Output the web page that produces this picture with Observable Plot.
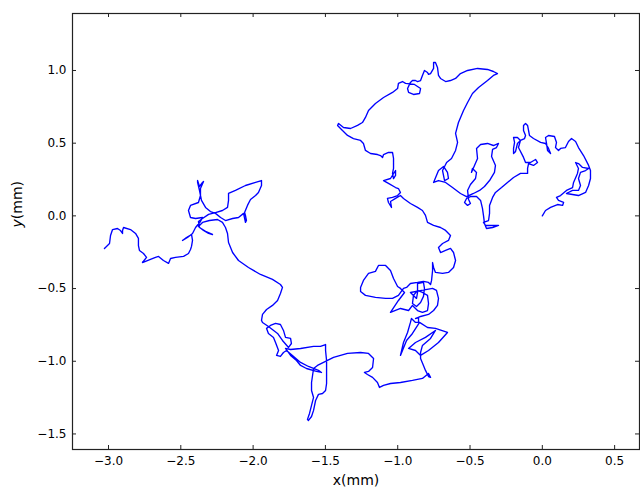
<!DOCTYPE html>
<html>
<head>
<meta charset="utf-8">
<script src="https://cdn.jsdelivr.net/npm/d3@7"></script>
<script src="https://cdn.jsdelivr.net/npm/@observablehq/plot@0.6"></script>
<style>
  html, body { margin: 0; padding: 0; background: #fff; }
  #chart svg { display: block; }
</style>
</head>
<body>
<div id="chart"></div>
<script>
// Random-walk trajectory (x mm, y mm), in path order
const walkStart = [
  [0,0],[0.022,0.037],[0.057,0.058],[0.105,0.078],[0.140,0.072],[0.147,0.092],[0.112,0.106],[0.098,0.127],
  [0.126,0.140],[0.167,0.175],[0.209,0.195],[0.216,0.230],[0.243,0.292],[0.250,0.326],[0.230,0.367],[0.250,0.360],
  [0.278,0.333],[0.320,0.326],[0.299,0.312],[0.264,0.299],[0.250,0.257],[0.264,0.209],[0.250,0.175],[0.209,0.175],
  [0.167,0.154],[0.250,0.140],[0.299,0.161],[0.320,0.209],[0.333,0.257],[0.333,0.312],[0.320,0.347],[0.285,0.415],
  [0.250,0.470],[0.230,0.512],[0.202,0.532],[0.181,0.512],[0.160,0.470],[0.126,0.464],
  [0.112,0.450],[0.091,0.470],
  [0.098,0.505],[0.084,0.546],[0.043,0.553],[0.022,0.539],[0.029,0.498],[0.036,0.450],[0.057,0.429],[0.043,0.464],
  [0.022,0.498],[-0.012,0.505],[-0.061,0.532],[-0.089,0.553],[-0.095,0.587],[-0.102,0.622],[-0.116,0.636],[-0.130,0.622],
  [-0.130,0.587],[-0.116,0.553],[-0.123,0.532],[-0.151,0.519],[-0.172,0.498],[-0.185,0.443],[-0.199,0.429],[-0.199,0.464],
  [-0.192,0.505],[-0.199,0.539],[-0.172,0.539],[-0.151,0.519],[-0.165,0.470],[-0.130,0.402],[-0.116,0.367],[-0.082,0.367],
  [-0.047,0.388],[-0.033,0.367],[-0.061,0.347],[-0.095,0.360],[-0.102,0.326],[-0.102,0.292],[-0.151,0.292],[-0.199,0.264],
  [-0.241,0.230],[-0.282,0.195],[-0.324,0.161],[-0.344,0.127],[-0.365,0.072],[-0.365,0.017],[-0.372,-0.032],[-0.407,-0.045],
  [-0.393,-0.066],[-0.344,-0.066],[-0.303,-0.066],[-0.344,-0.080],[-0.386,-0.087],[-0.400,-0.052],[-0.407,0.003],[-0.414,0.051],
  [-0.427,0.106],[-0.455,0.133],[-0.497,0.133],[-0.524,0.120],[-0.538,0.092],[-0.517,0.072],[-0.497,0.085],[-0.510,0.113],
  [-0.517,0.175],[-0.497,0.216],[-0.462,0.257],[-0.455,0.299],[-0.483,0.326],[-0.490,0.299],[-0.469,0.347],[-0.448,0.395],
  [-0.455,0.464],[-0.427,0.491],[-0.379,0.498],[-0.338,0.484],[-0.303,0.498],[-0.317,0.470],[-0.344,0.457],[-0.351,0.409],
  [-0.324,0.347],[-0.331,0.299],[-0.365,0.243],[-0.400,0.202],[-0.434,0.175],[-0.476,0.154],[-0.524,0.133],[-0.566,0.154],
  [-0.621,0.195],[-0.669,0.230],[-0.718,0.243],[-0.752,0.230],[-0.718,0.312],[-0.683,0.340],[-0.656,0.299],[-0.649,0.257],
  [-0.676,0.243],[-0.690,0.312],[-0.662,0.367],[-0.628,0.395],[-0.600,0.450],[-0.586,0.505],[-0.600,0.567],[-0.580,0.642],
  [-0.545,0.725]
];
const walkUpper = [
  [-0.517,0.780],[-0.483,0.842],[-0.441,0.883],[-0.379,0.931],[-0.338,0.966],[-0.310,0.979],[-0.338,0.993],[-0.379,1.007],
  [-0.448,1.014],[-0.517,1.000],[-0.566,0.979],[-0.600,0.945],[-0.635,0.931],[-0.669,0.924],[-0.704,0.945],[-0.718,0.966],
  [-0.725,1.021],[-0.739,1.055],[-0.752,1.055],[-0.752,1.014],[-0.773,0.979],[-0.787,0.973],[-0.794,0.986],[-0.815,1.000],
  [-0.829,0.966],[-0.842,0.931],[-0.863,0.924],[-0.877,0.931],[-0.898,0.931],[-0.912,0.918],[-0.932,0.876],[-0.925,0.849],
  [-0.891,0.835],[-0.849,0.842],[-0.842,0.876],[-0.884,0.904],[-0.946,0.911],[-0.967,0.924],[-0.995,0.911],[-1.001,0.876],
  [-1.036,0.849],[-1.098,0.814],[-1.154,0.773],[-1.202,0.725],[-1.223,0.677],[-1.244,0.642],[-1.278,0.622],[-1.326,0.601],
  [-1.375,0.608],[-1.409,0.636],[-1.416,0.622],[-1.382,0.587],[-1.347,0.553],[-1.306,0.532],[-1.257,0.519],[-1.237,0.498],
  [-1.223,0.450],[-1.188,0.429],[-1.140,0.422],[-1.119,0.415],[-1.105,0.402],[-1.098,0.422],[-1.064,0.436],[-1.036,0.436],
  [-1.029,0.395],[-1.029,0.326],[-1.036,0.292],[-1.029,0.257],[-1.015,0.278],[-1.015,0.312],[-1.050,0.257],[-1.098,0.243],
  [-1.064,0.223],[-1.015,0.195],[-0.995,0.188],[-0.981,0.161],[-1.001,0.140],[-1.036,0.127],[-1.071,0.120],[-1.064,0.092],
  [-1.043,0.058],[-1.050,0.099],[-1.015,0.120],[-0.981,0.140],[-0.960,0.120],[-0.912,0.085],[-0.863,0.058],[-0.829,0.037],
  [-0.808,0.003],[-0.794,-0.045],[-0.752,-0.066],[-0.704,-0.080],[-0.669,-0.100],[-0.635,-0.135],[-0.649,-0.169],[-0.690,-0.190],
  [-0.718,-0.217],[-0.704,-0.252],[-0.669,-0.238],[-0.635,-0.224],[-0.614,-0.252],[-0.600,-0.307],[-0.614,-0.355],[-0.649,-0.389],
  [-0.690,-0.396],[-0.739,-0.389],[-0.752,-0.355],[-0.759,-0.321],[-0.759,-0.376],[-0.766,-0.444]
];
const walkKnot = [
  [-0.773,-0.472],[-0.787,-0.458],[-0.822,-0.451],[-0.863,-0.458],[-0.912,-0.465],[-0.939,-0.492],[-0.960,-0.499],[-0.995,-0.547],
  [-1.036,-0.568],[-1.084,-0.568],[-1.154,-0.561],[-1.223,-0.547],[-1.257,-0.520],[-1.257,-0.492],[-1.237,-0.444],[-1.202,-0.396],
  [-1.154,-0.382],[-1.133,-0.341],[-1.084,-0.341],[-1.050,-0.376],[-1.029,-0.431],[-1.001,-0.486],[-0.981,-0.499],[-0.953,-0.527],
  [-0.995,-0.582],[-1.050,-0.664],[-0.981,-0.637],[-0.925,-0.651],[-0.898,-0.616],[-0.863,-0.651],[-0.829,-0.664],[-0.794,-0.651],
  [-0.787,-0.603],[-0.794,-0.547],[-0.829,-0.527],[-0.863,-0.513],[-0.891,-0.547],[-0.898,-0.603],[-0.870,-0.623],[-0.842,-0.596],
  [-0.822,-0.554],[-0.815,-0.499],[-0.822,-0.458],[-0.863,-0.465],[-0.863,-0.527],[-0.870,-0.568],[-0.912,-0.527],[-0.835,-0.513],
  [-0.759,-0.499],
  [-0.732,-0.513],[-0.718,-0.568],[-0.725,-0.616],[-0.752,-0.651],[-0.787,-0.678],[-0.842,-0.692],[-0.877,-0.706],
  [-0.856,-0.699],[-0.856,-0.733],[-0.877,-0.733],[-0.905,-0.706],[-0.912,-0.733],[-0.932,-0.802],[-0.960,-0.871],[-0.981,-0.960],
  [-0.967,-0.926],[-0.939,-0.857],[-0.898,-0.809],[-0.849,-0.733],[-0.794,-0.768],[-0.739,-0.774],[-0.656,-0.802],[-0.718,-0.871],
  [-0.787,-0.926],[-0.842,-0.960],[-0.877,-0.926],[-0.925,-0.912],[-0.877,-0.871],[-0.808,-0.836],[-0.739,-0.788],[-0.773,-0.843],
  [-0.829,-0.891],[-0.842,-0.940],[-0.842,-0.981],[-0.822,-1.029],[-0.808,-1.063],[-0.787,-1.105],[-0.773,-1.111],[-0.787,-1.084],
  [-0.829,-1.118],[-0.898,-1.132],[-0.981,-1.146],[-1.050,-1.153],[-1.098,-1.166],[-1.126,-1.180],[-1.140,-1.146],[-1.174,-1.111],
  [-1.209,-1.091],[-1.230,-1.077],[-1.202,-1.070],[-1.174,-1.043],[-1.167,-0.981],[-1.202,-0.946],[-1.257,-0.940],[-1.347,-0.946],
  [-1.444,-0.974],[-1.513,-1.008],[-1.555,-1.029],[-1.582,-1.050]
];
const walkEnd = [
  [-1.589,-1.098],[-1.596,-1.146],[-1.596,-1.201],[-1.582,-1.249],[-1.596,-1.304],[-1.610,-1.359],[-1.624,-1.400],[-1.617,-1.407],
  [-1.596,-1.380],[-1.582,-1.338],[-1.568,-1.270],[-1.548,-1.228],[-1.520,-1.222],[-1.499,-1.201],[-1.492,-1.153],[-1.492,-1.077],
  [-1.492,-0.995],[-1.499,-0.926],[-1.499,-0.885],[-1.534,-0.898],[-1.582,-0.898],[-1.672,-0.912],[-1.741,-0.919],[-1.776,-0.912],
  [-1.741,-0.960],[-1.700,-0.995],[-1.672,-1.029],[-1.631,-1.050],[-1.562,-1.070],[-1.527,-1.077],[-1.548,-1.063],[-1.617,-1.036],
  [-1.672,-1.008],[-1.728,-0.960],[-1.769,-0.926],[-1.790,-0.940],[-1.811,-0.967],[-1.838,-0.960],[-1.824,-0.926],[-1.845,-0.871],
  [-1.859,-0.836],[-1.894,-0.809],[-1.907,-0.774],[-1.880,-0.754],[-1.845,-0.740],[-1.811,-0.747],[-1.790,-0.788],[-1.776,-0.836],
  [-1.741,-0.843],[-1.735,-0.878],[-1.755,-0.905],[-1.797,-0.857],[-1.831,-0.809],[-1.894,-0.761],[-1.935,-0.733],[-1.942,-0.719],
  [-1.935,-0.678],[-1.907,-0.644],[-1.866,-0.616],[-1.831,-0.582],[-1.811,-0.534],[-1.797,-0.492],[-1.811,-0.472],[-1.866,-0.437],
  [-1.949,-0.403],[-2.032,-0.355],[-2.101,-0.307],[-2.142,-0.252],[-2.170,-0.183],[-2.177,-0.121],[-2.191,-0.080],[-2.212,-0.045],
  [-2.246,-0.025],[-2.302,-0.032],[-2.350,-0.045],[-2.378,-0.073],[-2.343,-0.100],[-2.308,-0.121],[-2.281,-0.128],[-2.329,-0.107],
  [-2.371,-0.080],[-2.378,-0.039],[-2.350,-0.018],[-2.308,0.010],[-2.260,0.023],[-2.212,0.037],[-2.177,0.058],[-2.170,0.106],
  [-2.170,0.154],[-2.122,0.175],[-2.053,0.209],[-1.983,0.230],[-1.942,0.243],[-1.942,0.209],[-1.963,0.161],[-1.983,0.140],
  [-2.018,0.113],[-2.039,0.072],[-2.059,0.023],[-2.053,0.003],[-2.046,-0.032],[-2.053,-0.045],[-2.066,0.017],[-2.101,-0.011],
  [-2.142,-0.018],[-2.191,-0.032],[-2.225,-0.011],[-2.260,0.017],[-2.295,0.030],[-2.329,0.058],[-2.357,0.106],[-2.371,0.175],
  [-2.384,0.230],[-2.384,0.243],[-2.371,0.202],[-2.350,0.230],[-2.343,0.237],[-2.364,0.188],[-2.364,0.140],[-2.378,0.092],
  [-2.433,0.072],[-2.447,0.037],[-2.433,-0.011],[-2.398,-0.018],[-2.350,-0.011],[-2.364,-0.039],[-2.398,-0.080],[-2.419,-0.121],
  [-2.454,-0.149],[-2.488,-0.169],[-2.461,-0.149],[-2.426,-0.128],[-2.419,-0.169],[-2.426,-0.210],[-2.433,-0.231],[-2.447,-0.259],
  [-2.481,-0.279],[-2.537,-0.286],[-2.571,-0.293],[-2.585,-0.327],[-2.620,-0.307],[-2.654,-0.279],[-2.675,-0.286],[-2.710,-0.300],
  [-2.765,-0.321],[-2.737,-0.286],[-2.758,-0.259],[-2.786,-0.238],[-2.793,-0.204],[-2.793,-0.155],[-2.813,-0.121],[-2.848,-0.094],
  [-2.896,-0.080],[-2.903,-0.101],[-2.903,-0.121],[-2.917,-0.101],[-2.938,-0.087],[-2.972,-0.094],[-2.986,-0.135],[-2.993,-0.190],
  [-3.028,-0.224]
];

const xTicks = [-3.0, -2.5, -2.0, -1.5, -1.0, -0.5, 0.0, 0.5];
const yTicks = [-1.5, -1.0, -0.5, 0.0, 0.5, 1.0];
const xLabel = "x(mm)";
const yLabel = "y(mm)";

const path = [...walkStart, ...walkUpper, ...walkKnot, ...walkEnd].map(([x, y]) => ({x, y}));

const W = 640, H = 491;
const mTop = 13, mBottom = 42, mLeft = 72, mRight = 1;
const plotW = W - mLeft - mRight, plotH = H - mTop - mBottom;
const tickLen = 4;
const fmt = d => d.toFixed(1).replace("-", "\u2212");
const axisColor = "#222";

const chart = Plot.plot({
  width: W,
  height: H,
  marginTop: mTop,
  marginBottom: mBottom,
  marginLeft: mLeft,
  marginRight: mRight,
  style: {fontFamily: "'DejaVu Sans', sans-serif", fontSize: "12px", color: "#000", background: "#fff"},
  x: {domain: [-3.249, 0.672]},
  y: {domain: [-1.607, 1.392]},
  marks: [
    Plot.axisX({ticks: xTicks, tickSize: 0, tickPadding: 7, tickFormat: fmt, fontSize: 12, label: null}),
    Plot.axisY({ticks: yTicks, tickSize: 0, tickPadding: 6, tickFormat: fmt, fontSize: 12, label: null}),
    Plot.line(path, {x: "x", y: "y", stroke: "#0000ff", strokeWidth: 1.35, curve: "linear"}),
    // inward ticks on all four sides
    Plot.tickX(xTicks, {x: d => d, stroke: axisColor, insetTop: plotH - tickLen}),
    Plot.tickX(xTicks, {x: d => d, stroke: axisColor, insetBottom: plotH - tickLen}),
    Plot.tickY(yTicks, {y: d => d, stroke: axisColor, insetRight: plotW - tickLen}),
    Plot.tickY(yTicks, {y: d => d, stroke: axisColor, insetLeft: plotW - tickLen}),
    Plot.frame({stroke: axisColor, strokeWidth: 1.2}),
    Plot.text([xLabel], {frameAnchor: "bottom", dy: 35, fontSize: 14, fill: "#000", text: d => d}),
    Plot.text([yLabel], {frameAnchor: "left", dx: -55, dy: -4, rotate: -90, fontSize: 14, fill: "#000", text: d => d, className: "ylab"})
  ]
});
document.getElementById("chart").appendChild(chart);
// italic y in the y-axis label, as in the reference
d3.select(chart).selectAll(".ylab text").each(function () {
  const t = d3.select(this);
  const s = t.text();
  t.text(null);
  t.append("tspan").attr("font-style", "italic").text(s.slice(0, 1));
  t.append("tspan").text(s.slice(1));
});
</script>
</body>
</html>
